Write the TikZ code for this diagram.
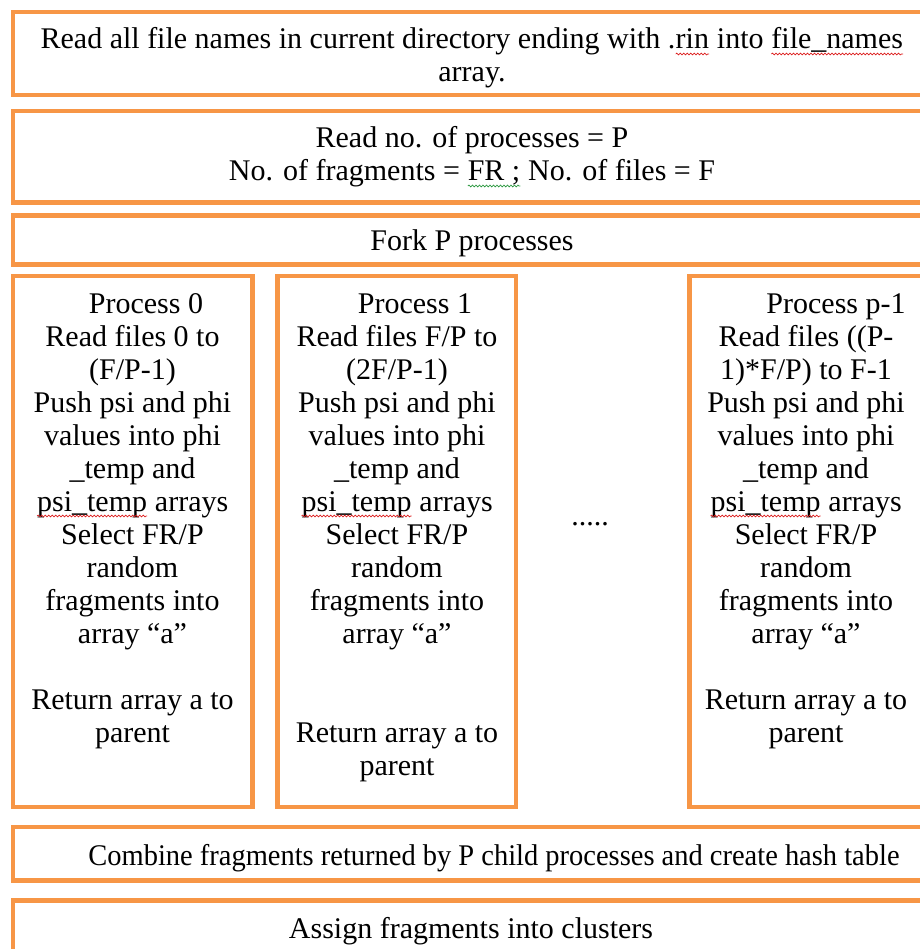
\documentclass[tikz,border=0pt]{standalone}
\usepackage{fontspec}
\setmainfont{Liberation Serif}
\usepackage{graphicx}
\usetikzlibrary{decorations.pathmorphing}
\definecolor{boxorange}{RGB}{247,150,70}
\definecolor{wavered}{RGB}{220,30,30}
\definecolor{wavegreen}{RGB}{40,150,60}
\newcommand\wavy[2]{\tikz[baseline=(w.base)]{\node[inner sep=0pt,outer sep=0pt] (w) {#2};\draw[#1, line width=0.7pt, decorate, decoration={snake, amplitude=0.9pt, segment length=3.5pt}] ([yshift=-5pt]w.base west) -- ([yshift=-5pt]w.base east);}}
\begin{document}
\begin{tikzpicture}[x=1pt,y=-1pt,
  frame/.style={draw=boxorange, line width=4.5pt, rectangle, inner sep=0pt, outer sep=0pt, anchor=north west},
  txt/.style={font=\fontsize{30}{33}\selectfont, align=center, inner sep=0pt, anchor=base}]
\useasboundingbox (0,0) rectangle (919,949);
% frames
\node[frame, minimum width=918pt, minimum height=83pt] (b1) at (13,12) {};
\node[frame, minimum width=918pt, minimum height=91.5pt] (b2) at (13,111) {};
\node[frame, minimum width=918pt, minimum height=49pt] (b3) at (13,215.5) {};
\node[frame, minimum width=239.5pt, minimum height=531pt] (pA) at (13,276) {};
\node[frame, minimum width=238.5pt, minimum height=531pt] (pB) at (277.5,276) {};
\node[frame, minimum width=232.5pt, minimum height=531pt] (pC) at (689.5,276) {};
\node[frame, minimum width=918pt, minimum height=53.5pt] (b4) at (13,827) {};
\node[frame, minimum width=918pt, minimum height=60pt] (b5) at (13,900.5) {};
% texts (base anchor = baseline of the last line)
\node[txt] (t1) at (472,82) {Read all file names in current directory ending with .\wavy{wavered}{rin} into \wavy{wavered}{file\_names}\\ array.};
\node[txt] (t2) at (472,181) {Read no. of processes = P\\ No. of fragments = \wavy{wavegreen}{FR ;} No. of files = F};
\node[txt] (t3) at (472,251) {Fork P processes};
\node[txt] (tA) at (132.5,742) {\hspace*{27pt}Process 0\\Read files 0 to\\(F/P-1)\\Push psi and phi\\values into phi\\\_temp and\\\wavy{wavered}{psi\_temp} arrays\\Select FR/P\\random\\fragments into\\array “a”\\[33pt]Return array a to\\parent};
\node[txt] (tB) at (397,775) {\hspace*{36pt}Process 1\\Read files F/P to\\(2F/P-1)\\Push psi and phi\\values into phi\\\_temp and\\\wavy{wavered}{psi\_temp} arrays\\Select FR/P\\random\\fragments into\\array “a”\\[66pt]Return array a to\\parent};
\node[txt] (tC) at (806,742) {\hspace*{60pt}Process p-1\\Read files ((P-\\1)*F/P) to F-1\\Push psi and phi\\values into phi\\\_temp and\\\wavy{wavered}{psi\_temp} arrays\\Select FR/P\\random\\fragments into\\array “a”\\[33pt]Return array a to\\parent};
\node[txt] (dots) at (590,525) {.....};
\node[txt] (t4) at (494,865) {\scalebox{0.949}[1]{Combine fragments returned by P child processes and create hash table}};
\node[txt] (t5) at (471,938) {Assign fragments into clusters};
\end{tikzpicture}
\end{document}
